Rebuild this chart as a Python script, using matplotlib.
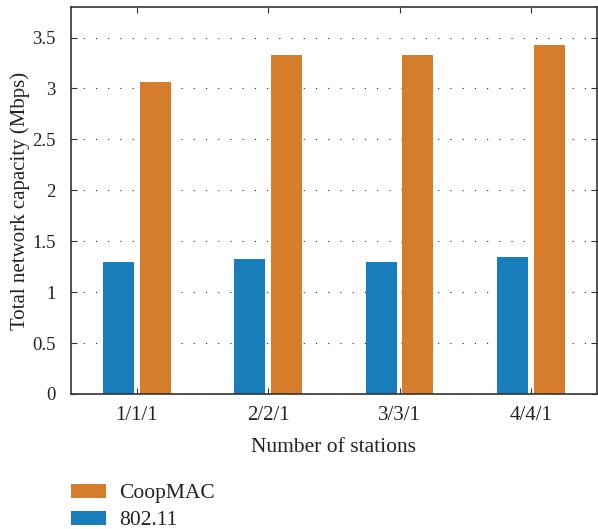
import matplotlib
matplotlib.use("Agg")
import matplotlib.pyplot as plt
import numpy as np

estaciones = ['1/1/1', '2/2/1', '3/3/1', '4/4/1']
cap_80211 = [1.30, 1.33, 1.30, 1.35]
cap_coopmac = [3.06, 3.33, 3.33, 3.43]

plt.rcParams['font.family'] = ['Liberation Serif', 'DejaVu Serif']
plt.rcParams['font.size'] = 13.5

azul = '#177ebb'
naranja = '#d57d2a'

fig = plt.figure(figsize=(5.98, 5.29), dpi=100)
ax = fig.add_axes([0.1187, 0.2552, 0.879, 0.7316])

x = np.arange(1, len(estaciones) + 1)
ancho = 0.235
b1 = ax.bar(x - 0.14, cap_80211, ancho, color=azul, label='802.11', zorder=2)
b2 = ax.bar(x + 0.14, cap_coopmac, ancho, color=naranja, label='CoopMAC', zorder=2)

ax.set_xlim(0.5, 4.5)
ax.set_ylim(0, 3.8)
ax.set_xticks(x)
ax.set_xticklabels(estaciones, fontsize=15)
ax.set_yticks(np.arange(0, 3.6, 0.5))
ax.set_yticklabels(['0', '0.5', '1', '1.5', '2', '2.5', '3', '3.5'])
ax.tick_params(direction='in', top=True, right=True, length=4, colors='#333333',
               labelcolor='#222222')
ax.tick_params(axis='y', pad=11)
ax.tick_params(axis='x', pad=9)
ax.yaxis.grid(True, linestyle=(0, (1, 10)), color='#222222', linewidth=0.8, zorder=0)
ax.set_axisbelow(True)
for s in ax.spines.values():
    s.set_color('#333333')
    s.set_linewidth(1.2)

ax.set_xlabel('Number of stations', color='#222222', labelpad=9, fontsize=15.5)
ax.set_ylabel('Total network capacity (Mbps)', color='#222222', labelpad=1.5, fontsize=15)

fig.legend([b2, b1], ['CoopMAC', '802.11'], loc='upper left',
           bbox_to_anchor=(0.104, 0.102), frameon=False, borderaxespad=0,
           handlelength=1.63, handleheight=0.63, labelspacing=0.34,
           handletextpad=0.6, labelcolor='#222222', fontsize=15.5)

fig.savefig('out.png', dpi=100)
